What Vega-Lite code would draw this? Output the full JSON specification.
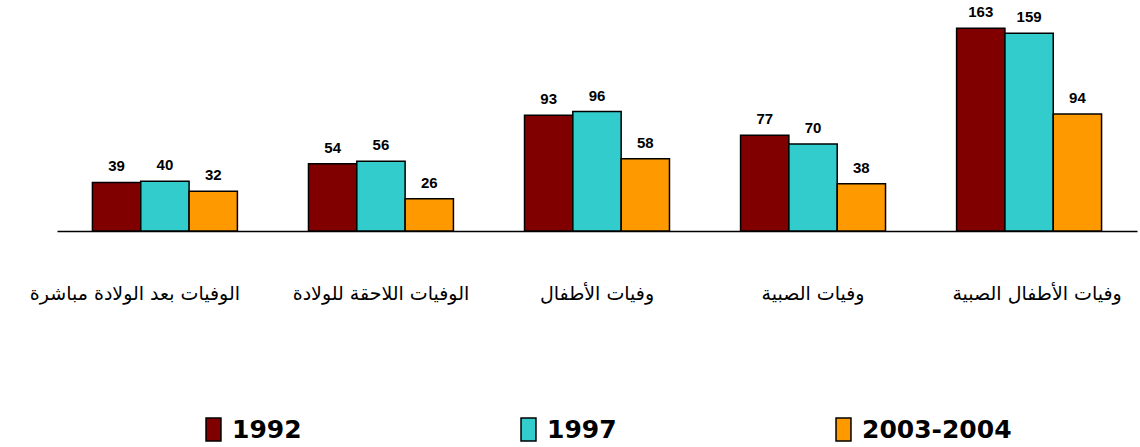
{
  "$schema": "https://vega.github.io/schema/vega-lite/v6.json",
  "autosize": {"type": "none"},
  "padding": {"left": 57, "top": 7, "right": 3, "bottom": 216},
  "width": 1080,
  "height": 224,
  "background": "white",
  "data": {"values": [
    {"cat": "الوفيات بعد الولادة مباشرة", "year": "1992", "v": 39},
    {"cat": "الوفيات بعد الولادة مباشرة", "year": "1997", "v": 40},
    {"cat": "الوفيات بعد الولادة مباشرة", "year": "2003-2004", "v": 32},
    {"cat": "الوفيات اللاحقة للولادة", "year": "1992", "v": 54},
    {"cat": "الوفيات اللاحقة للولادة", "year": "1997", "v": 56},
    {"cat": "الوفيات اللاحقة للولادة", "year": "2003-2004", "v": 26},
    {"cat": "وفيات الأطفال", "year": "1992", "v": 93},
    {"cat": "وفيات الأطفال", "year": "1997", "v": 96},
    {"cat": "وفيات الأطفال", "year": "2003-2004", "v": 58},
    {"cat": "وفيات الصبية", "year": "1992", "v": 77},
    {"cat": "وفيات الصبية", "year": "1997", "v": 70},
    {"cat": "وفيات الصبية", "year": "2003-2004", "v": 38},
    {"cat": "وفيات الأطفال الصبية", "year": "1992", "v": 163},
    {"cat": "وفيات الأطفال الصبية", "year": "1997", "v": 159},
    {"cat": "وفيات الأطفال الصبية", "year": "2003-2004", "v": 94}
  ]},
  "encoding": {
    "x": {
      "field": "cat", "type": "nominal", "sort": null,
      "scale": {"paddingInner": 0.329, "paddingOuter": 0.164},
      "axis": {
        "title": null, "ticks": false, "labelAngle": 0,
        "domainColor": "black", "domainWidth": 1.5,
        "labelPadding": 53, "labelFont": "DejaVu Sans", "labelFontSize": 19,
        "labelColor": "black", "labelLimit": 300,
        "labelOffset": {"condition": [
          {"test": "datum.value === 'الوفيات بعد الولادة مباشرة'", "value": -30},
          {"test": "datum.value === 'وفيات الأطفال الصبية'", "value": 8}
        ], "value": 0}
      }
    },
    "xOffset": {"field": "year", "type": "nominal"},
    "y": {
      "field": "v", "type": "quantitative",
      "scale": {"domain": [0, 180]},
      "axis": null
    }
  },
  "layer": [
    {
      "mark": {"type": "bar", "stroke": "black", "strokeWidth": 1.5},
      "encoding": {
        "color": {
          "field": "year", "type": "nominal",
          "scale": {"domain": ["1992", "1997", "2003-2004"], "range": ["#800000", "#33CCCC", "#FF9900"]},
          "legend": {
            "title": null, "orient": "none", "direction": "horizontal",
            "legendX": 144, "legendY": 410,
            "symbolType": "M-0.65,-1H0.65V1H-0.65Z", "symbolSize": 529,
            "symbolStrokeColor": "black", "symbolStrokeWidth": 1.5,
            "labelFont": "DejaVu Sans", "labelFontSize": 25, "labelFontWeight": "bold",
            "labelColor": "black", "labelOffset": 6, "columnPadding": 214,
            "labelLimit": 400
          }
        }
      }
    },
    {
      "mark": {"type": "text", "baseline": "bottom", "dy": -8, "font": "Liberation Sans", "fontSize": 15, "fontWeight": "bold", "letterSpacing": 2.5, "color": "black"},
      "encoding": {"text": {"field": "v", "type": "quantitative"}}
    }
  ],
  "config": {"view": {"stroke": null}}
}
